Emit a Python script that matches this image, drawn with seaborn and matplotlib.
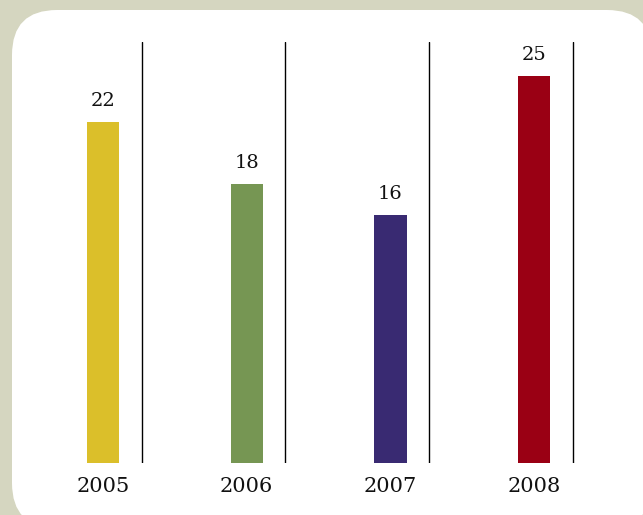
import matplotlib
matplotlib.use("Agg")
import matplotlib.pyplot as plt
from matplotlib.patches import FancyBboxPatch
import seaborn as sns
import pandas as pd

years = ["2005", "2006", "2007", "2008"]
values = [22, 18, 16, 25]
colors = ["#dbbf2a", "#769653", "#392a72", "#9a0014"]

sns.set_theme(style="white")
plt.rcParams["font.family"] = ["DejaVu Serif"]

W, H = 643, 515
fig = plt.figure(figsize=(W / 100, H / 100), dpi=100)
fig.patch.set_facecolor("#d5d6c0")

# white rounded panel (pixel coordinates)
panel = FancyBboxPatch((12, -13), 640, 518,
                       boxstyle="round,pad=0,rounding_size=45",
                       transform=None, facecolor="white",
                       edgecolor="none", zorder=0)
fig.patches.append(panel)

x0, unit = 103.0, 143.67
xmin, xmax = -0.6, 3.6
left_px = x0 + xmin * unit
right_px = x0 + xmax * unit
bottom_px, top_px = 463, 42
ax = fig.add_axes([left_px / W, (H - bottom_px) / H,
                   (right_px - left_px) / W, (bottom_px - top_px) / H])
ax.set_zorder(2)
ax.set_facecolor("none")

df = pd.DataFrame({"year": years, "value": values})
sns.barplot(data=df, x="year", y="value", hue="year", palette=colors,
            width=0.225, legend=False, ax=ax, saturation=1, linewidth=0)

for c in ax.containers:
    ax.bar_label(c, padding=9, fontsize=14, color="#111111")

for i in range(len(years)):
    ax.axvline(i + 0.27, color="black", lw=1)

ax.set_xlim(xmin, xmax)
ax.set_ylim(0, 27.2)
ax.set_xlabel("")
ax.set_ylabel("")
ax.set_yticks([])
ax.tick_params(axis="x", length=0, pad=10, labelsize=15, labelcolor="#111111")
for s in ax.spines.values():
    s.set_visible(False)

fig.savefig("out.png", dpi=100, facecolor=fig.get_facecolor())
